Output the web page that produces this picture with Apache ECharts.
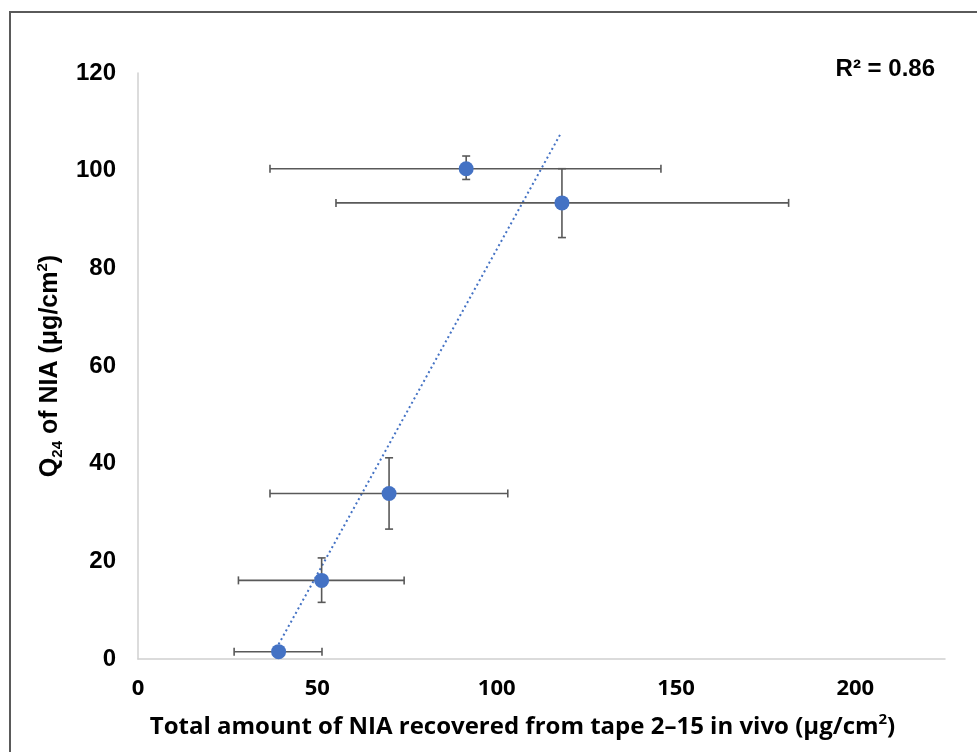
<!DOCTYPE html>
<html>
<head>
<meta charset="utf-8">
<script src="https://cdn.jsdelivr.net/npm/echarts@6/dist/echarts.min.js"></script>
<style>
  html, body { margin: 0; padding: 0; background: #fff; }
  #main { width: 977px; height: 752px; }
</style>
</head>
<body>
<div id="main"></div>
<script>
// 数据：读自原图
const xVals = [39.2, 51.2, 70, 91.5, 118.2];
const yVals = [1.5, 16.1, 33.9, 100.4, 93.4];
const xLow = [26.8, 28.0, 36.8, 36.8, 55.2];
const xHigh = [51.3, 74.2, 103.1, 145.8, 181.4];
const yLow = [1.5, 11.6, 26.6, 98.2, 86.3];
const yHigh = [1.5, 20.7, 41.2, 103.0, 100.4];
// 趋势线两端点
const trendX = [39.2, 118];
const trendY = [3, 107.8];
const yTicks = [0, 20, 40, 60, 80, 100, 120];
const xTicks = [0, 50, 100, 150, 200];
const r2Text = 'R² = 0.86';

const points = xVals.map((x, i) => [x, yVals[i]]);
const bars = xVals.map((x, i) => [x, yVals[i], xLow[i], xHigh[i], yLow[i], yHigh[i]]);
const trend = trendX.map((x, i) => [x, trendY[i]]);

const barColor = '#595959';

function renderErr(params, api) {
  const x = api.value(0), y = api.value(1);
  const l = api.coord([api.value(2), y]);
  const r = api.coord([api.value(3), y]);
  const b = api.coord([x, api.value(4)]);
  const t = api.coord([x, api.value(5)]);
  const cap = 4;
  const st = { stroke: barColor, lineWidth: 1.6 };
  const kids = [
    { type: 'line', shape: { x1: l[0], y1: l[1], x2: r[0], y2: r[1] }, style: st },
    { type: 'line', shape: { x1: l[0], y1: l[1] - cap, x2: l[0], y2: l[1] + cap }, style: st },
    { type: 'line', shape: { x1: r[0], y1: r[1] - cap, x2: r[0], y2: r[1] + cap }, style: st }
  ];
  if (Math.abs(t[1] - b[1]) > 1) {
    kids.push(
      { type: 'line', shape: { x1: t[0], y1: t[1], x2: b[0], y2: b[1] }, style: st },
      { type: 'line', shape: { x1: t[0] - cap, y1: t[1], x2: t[0] + cap, y2: t[1] }, style: st },
      { type: 'line', shape: { x1: b[0] - cap, y1: b[1], x2: b[0] + cap, y2: b[1] }, style: st }
    );
  }
  return { type: 'group', children: kids };
}

const chart = echarts.init(document.getElementById('main'));
chart.setOption({
  animation: false,
  backgroundColor: '#fff',
  grid: { left: 138, right: 32, top: 73, bottom: 93, containLabel: false },
  graphic: [
    {
      type: 'rect', silent: true,
      shape: { x: 10, y: 12, width: 990, height: 800 },
      style: { fill: 'none', stroke: '#5a5a5a', lineWidth: 2 }
    },
    {
      type: 'text', right: 42, top: 57,
      style: { text: r2Text, font: 'bold 24px "Liberation Sans"', fill: '#000' }
    }
  ],
  xAxis: {
    type: 'value', min: 0, max: 225, interval: 50,
    splitLine: { show: false },
    axisTick: { show: false },
    axisLine: { lineStyle: { color: '#d0d0d0', width: 1.5 } },
    axisLabel: {
      margin: 19, showMaxLabel: false,
      fontFamily: 'Open Sans', fontWeight: 'bold', fontSize: 22, color: '#000',
      formatter: v => xTicks.indexOf(v) >= 0 ? String(v) : ''
    },
    name: '{a|Total amount of NIA recovered from tape 2–15 in vivo (μg/cm}{s|2}{a|)}',
    nameLocation: 'middle', nameGap: 53,
    nameTextStyle: {
      padding: [0, 38, 0, 0],
      rich: {
        a: { fontFamily: 'Open Sans', fontWeight: 'bold', fontSize: 24, color: '#000', lineHeight: 30 },
        s: { fontFamily: 'Open Sans', fontWeight: 'bold', fontSize: 15, color: '#000', verticalAlign: 'top', lineHeight: 30 }
      }
    }
  },
  yAxis: {
    type: 'value', min: 0, max: 120, interval: 20,
    splitLine: { show: false },
    axisTick: { show: false },
    axisLine: { show: true, lineStyle: { color: '#d0d0d0', width: 1.5 } },
    axisLabel: {
      margin: 22,
      fontFamily: 'Liberation Sans', fontWeight: 'bold', fontSize: 24, color: '#000',
      formatter: v => yTicks.indexOf(v) >= 0 ? String(v) : ''
    },
    name: '{a|Q}{b|24}{a| of NIA (μg/cm}{s|2}{a|)}',
    nameLocation: 'middle', nameGap: 52, nameRotate: 90,
    nameTextStyle: {
      rich: {
        a: { fontFamily: 'Liberation Sans', fontWeight: 'bold', fontSize: 25, color: '#000', lineHeight: 30 },
        b: { fontFamily: 'Liberation Sans', fontWeight: 'bold', fontSize: 15, color: '#000', verticalAlign: 'bottom', lineHeight: 30 },
        s: { fontFamily: 'Liberation Sans', fontWeight: 'bold', fontSize: 15, color: '#000', verticalAlign: 'top', lineHeight: 30 }
      }
    }
  },
  series: [
    {
      type: 'line', data: trend, symbol: 'none', z: 2,
      lineStyle: { color: '#4472C4', width: 2, type: [2, 3] }
    },
    {
      type: 'custom', data: bars, renderItem: renderErr, z: 3,
      encode: { x: 0, y: 1 }
    },
    {
      type: 'scatter', data: points, symbolSize: 15, z: 4,
      itemStyle: { color: '#4472C4', opacity: 1 }
    }
  ]
});
</script>
</body>
</html>
